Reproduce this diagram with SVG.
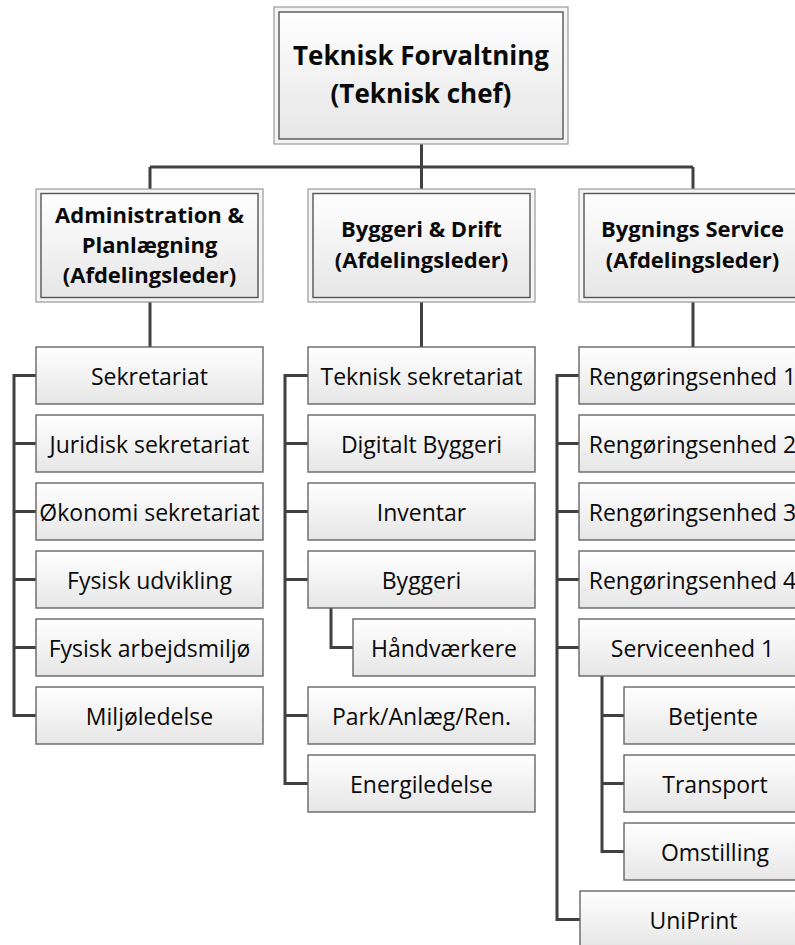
<svg xmlns="http://www.w3.org/2000/svg" width="795" height="945" viewBox="0 0 795 945">
  <defs>
    <linearGradient id="boxFill" x1="0" y1="0" x2="0" y2="1">
      <stop offset="0" stop-color="#ffffff"/>
      <stop offset="1" stop-color="#e6e6e6"/>
    </linearGradient>
    <style>
      .bg { fill: #ffffff; }
      .link { fill: none; stroke: #404040; stroke-width: 3; }
      .box { fill: url(#boxFill); stroke: #666666; stroke-width: 1.4; }
      .frame { fill: #f4f4f4; stroke: #9a9a9a; stroke-width: 1.2; }
      .inner { fill: url(#boxFill); stroke: #555555; stroke-width: 1.4; }
      .label { font-family: "Open Sans", "Liberation Sans", sans-serif; font-size: 23px; fill: #0a0a0a; text-anchor: middle; }
      .head { font-family: "Open Sans", "Liberation Sans", sans-serif; font-weight: bold; font-size: 22px; fill: #0a0a0a; text-anchor: middle; }
      .top { font-size: 26px; }
    </style>
  </defs>

  <rect class="bg" x="0" y="0" width="795" height="945"/>

  <!-- connectors -->
  <g id="connectors">
    <path class="link" d="M421.5,144 V167 M150,167 H693 M150,167 V189 M421.5,167 V189 M693,167 V189"/>
    <path class="link" d="M150,302 V347 M421.5,302 V347 M693,302 V347"/>
    <!-- Administration & Planlægning -->
    <path class="link" d="M36,375.5 H14 V715.5 H36 M14,443.5 H36 M14,511.5 H36 M14,579.5 H36 M14,647.5 H36"/>
    <!-- Byggeri & Drift -->
    <path class="link" d="M308,375.5 H285 V783.5 H308 M285,443.5 H308 M285,511.5 H308 M285,579.5 H308 M285,715.5 H308"/>
    <path class="link" d="M331,608 V647.5 H353"/>
    <!-- Bygnings Service -->
    <path class="link" d="M579,375.5 H557 V919.5 H580 M557,443.5 H579 M557,511.5 H579 M557,579.5 H579 M557,647.5 H579"/>
    <path class="link" d="M602,676 V851.5 H624 M602,715.5 H624 M602,783.5 H624"/>
  </g>

  <!-- top -->
  <g id="teknisk-forvaltning">
    <rect class="frame" x="274" y="7" width="294" height="137"/>
    <rect class="inner" x="279" y="12" width="284" height="127"/>
    <text class="head top" x="421" y="65">Teknisk Forvaltning</text>
    <text class="head top" x="421" y="103">(Teknisk chef)</text>
  </g>

  <!-- departments -->
  <g id="administration-planlaegning">
    <rect class="frame" x="36" y="189" width="227" height="113"/>
    <rect class="inner" x="41" y="193.5" width="217" height="104"/>
    <text class="head" x="149.5" y="223">Administration &amp;</text>
    <text class="head" x="149.5" y="253">Planlægning</text>
    <text class="head" x="149.5" y="283">(Afdelingsleder)</text>
  </g>
  <g id="byggeri-drift">
    <rect class="frame" x="308" y="189" width="227" height="113"/>
    <rect class="inner" x="313" y="193.5" width="217" height="104"/>
    <text class="head" x="421.5" y="237">Byggeri &amp; Drift</text>
    <text class="head" x="421.5" y="268">(Afdelingsleder)</text>
  </g>
  <g id="bygnings-service">
    <rect class="frame" x="579" y="189" width="227" height="113"/>
    <rect class="inner" x="584" y="193.5" width="217" height="104"/>
    <text class="head" x="692.5" y="237">Bygnings Service</text>
    <text class="head" x="692.5" y="268">(Afdelingsleder)</text>
  </g>

  <!-- Administration & Planlægning units -->
  <g id="sekretariat"><rect class="box" x="36" y="347" width="227" height="57"/><text class="label" x="149.5" y="384.5">Sekretariat</text></g>
  <g id="juridisk-sekretariat"><rect class="box" x="36" y="415" width="227" height="57"/><text class="label" x="149.5" y="452.5">Juridisk sekretariat</text></g>
  <g id="okonomi-sekretariat"><rect class="box" x="36" y="483" width="227" height="57"/><text class="label" x="149.5" y="520.5">Økonomi sekretariat</text></g>
  <g id="fysisk-udvikling"><rect class="box" x="36" y="551" width="227" height="57"/><text class="label" x="149.5" y="588.5">Fysisk udvikling</text></g>
  <g id="fysisk-arbejdsmiljo"><rect class="box" x="36" y="619" width="227" height="57"/><text class="label" x="149.5" y="656.5">Fysisk arbejdsmiljø</text></g>
  <g id="miljoledelse"><rect class="box" x="36" y="687" width="227" height="57"/><text class="label" x="149.5" y="724.5">Miljøledelse</text></g>

  <!-- Byggeri & Drift units -->
  <g id="teknisk-sekretariat"><rect class="box" x="308" y="347" width="227" height="57"/><text class="label" x="421.5" y="384.5">Teknisk sekretariat</text></g>
  <g id="digitalt-byggeri"><rect class="box" x="308" y="415" width="227" height="57"/><text class="label" x="421.5" y="452.5">Digitalt Byggeri</text></g>
  <g id="inventar"><rect class="box" x="308" y="483" width="227" height="57"/><text class="label" x="421.5" y="520.5">Inventar</text></g>
  <g id="byggeri"><rect class="box" x="308" y="551" width="227" height="57"/><text class="label" x="421.5" y="588.5">Byggeri</text></g>
  <g id="haandvaerkere"><rect class="box" x="353" y="619" width="182" height="57"/><text class="label" x="444" y="656.5">Håndværkere</text></g>
  <g id="park-anlaeg-ren"><rect class="box" x="308" y="687" width="227" height="57"/><text class="label" x="421.5" y="724.5">Park/Anlæg/Ren.</text></g>
  <g id="energiledelse"><rect class="box" x="308" y="755" width="227" height="57"/><text class="label" x="421.5" y="792.5">Energiledelse</text></g>

  <!-- Bygnings Service units -->
  <g id="rengoringsenhed-1"><rect class="box" x="579" y="347" width="227" height="57"/><text class="label" x="692.5" y="384.5">Rengøringsenhed 1</text></g>
  <g id="rengoringsenhed-2"><rect class="box" x="579" y="415" width="227" height="57"/><text class="label" x="692.5" y="452.5">Rengøringsenhed 2</text></g>
  <g id="rengoringsenhed-3"><rect class="box" x="579" y="483" width="227" height="57"/><text class="label" x="692.5" y="520.5">Rengøringsenhed 3</text></g>
  <g id="rengoringsenhed-4"><rect class="box" x="579" y="551" width="227" height="57"/><text class="label" x="692.5" y="588.5">Rengøringsenhed 4</text></g>
  <g id="serviceenhed-1"><rect class="box" x="579" y="619" width="227" height="57"/><text class="label" x="692.5" y="656.5">Serviceenhed 1</text></g>
  <g id="betjente"><rect class="box" x="624" y="687" width="182" height="57"/><text class="label" x="713" y="724.5">Betjente</text></g>
  <g id="transport"><rect class="box" x="624" y="755" width="182" height="57"/><text class="label" x="715" y="792.5">Transport</text></g>
  <g id="omstilling"><rect class="box" x="624" y="823" width="182" height="57"/><text class="label" x="715" y="860.5">Omstilling</text></g>
  <g id="uniprint"><rect class="box" x="580" y="891" width="227" height="57"/><text class="label" x="693.5" y="928.5">UniPrint</text></g>
</svg>
